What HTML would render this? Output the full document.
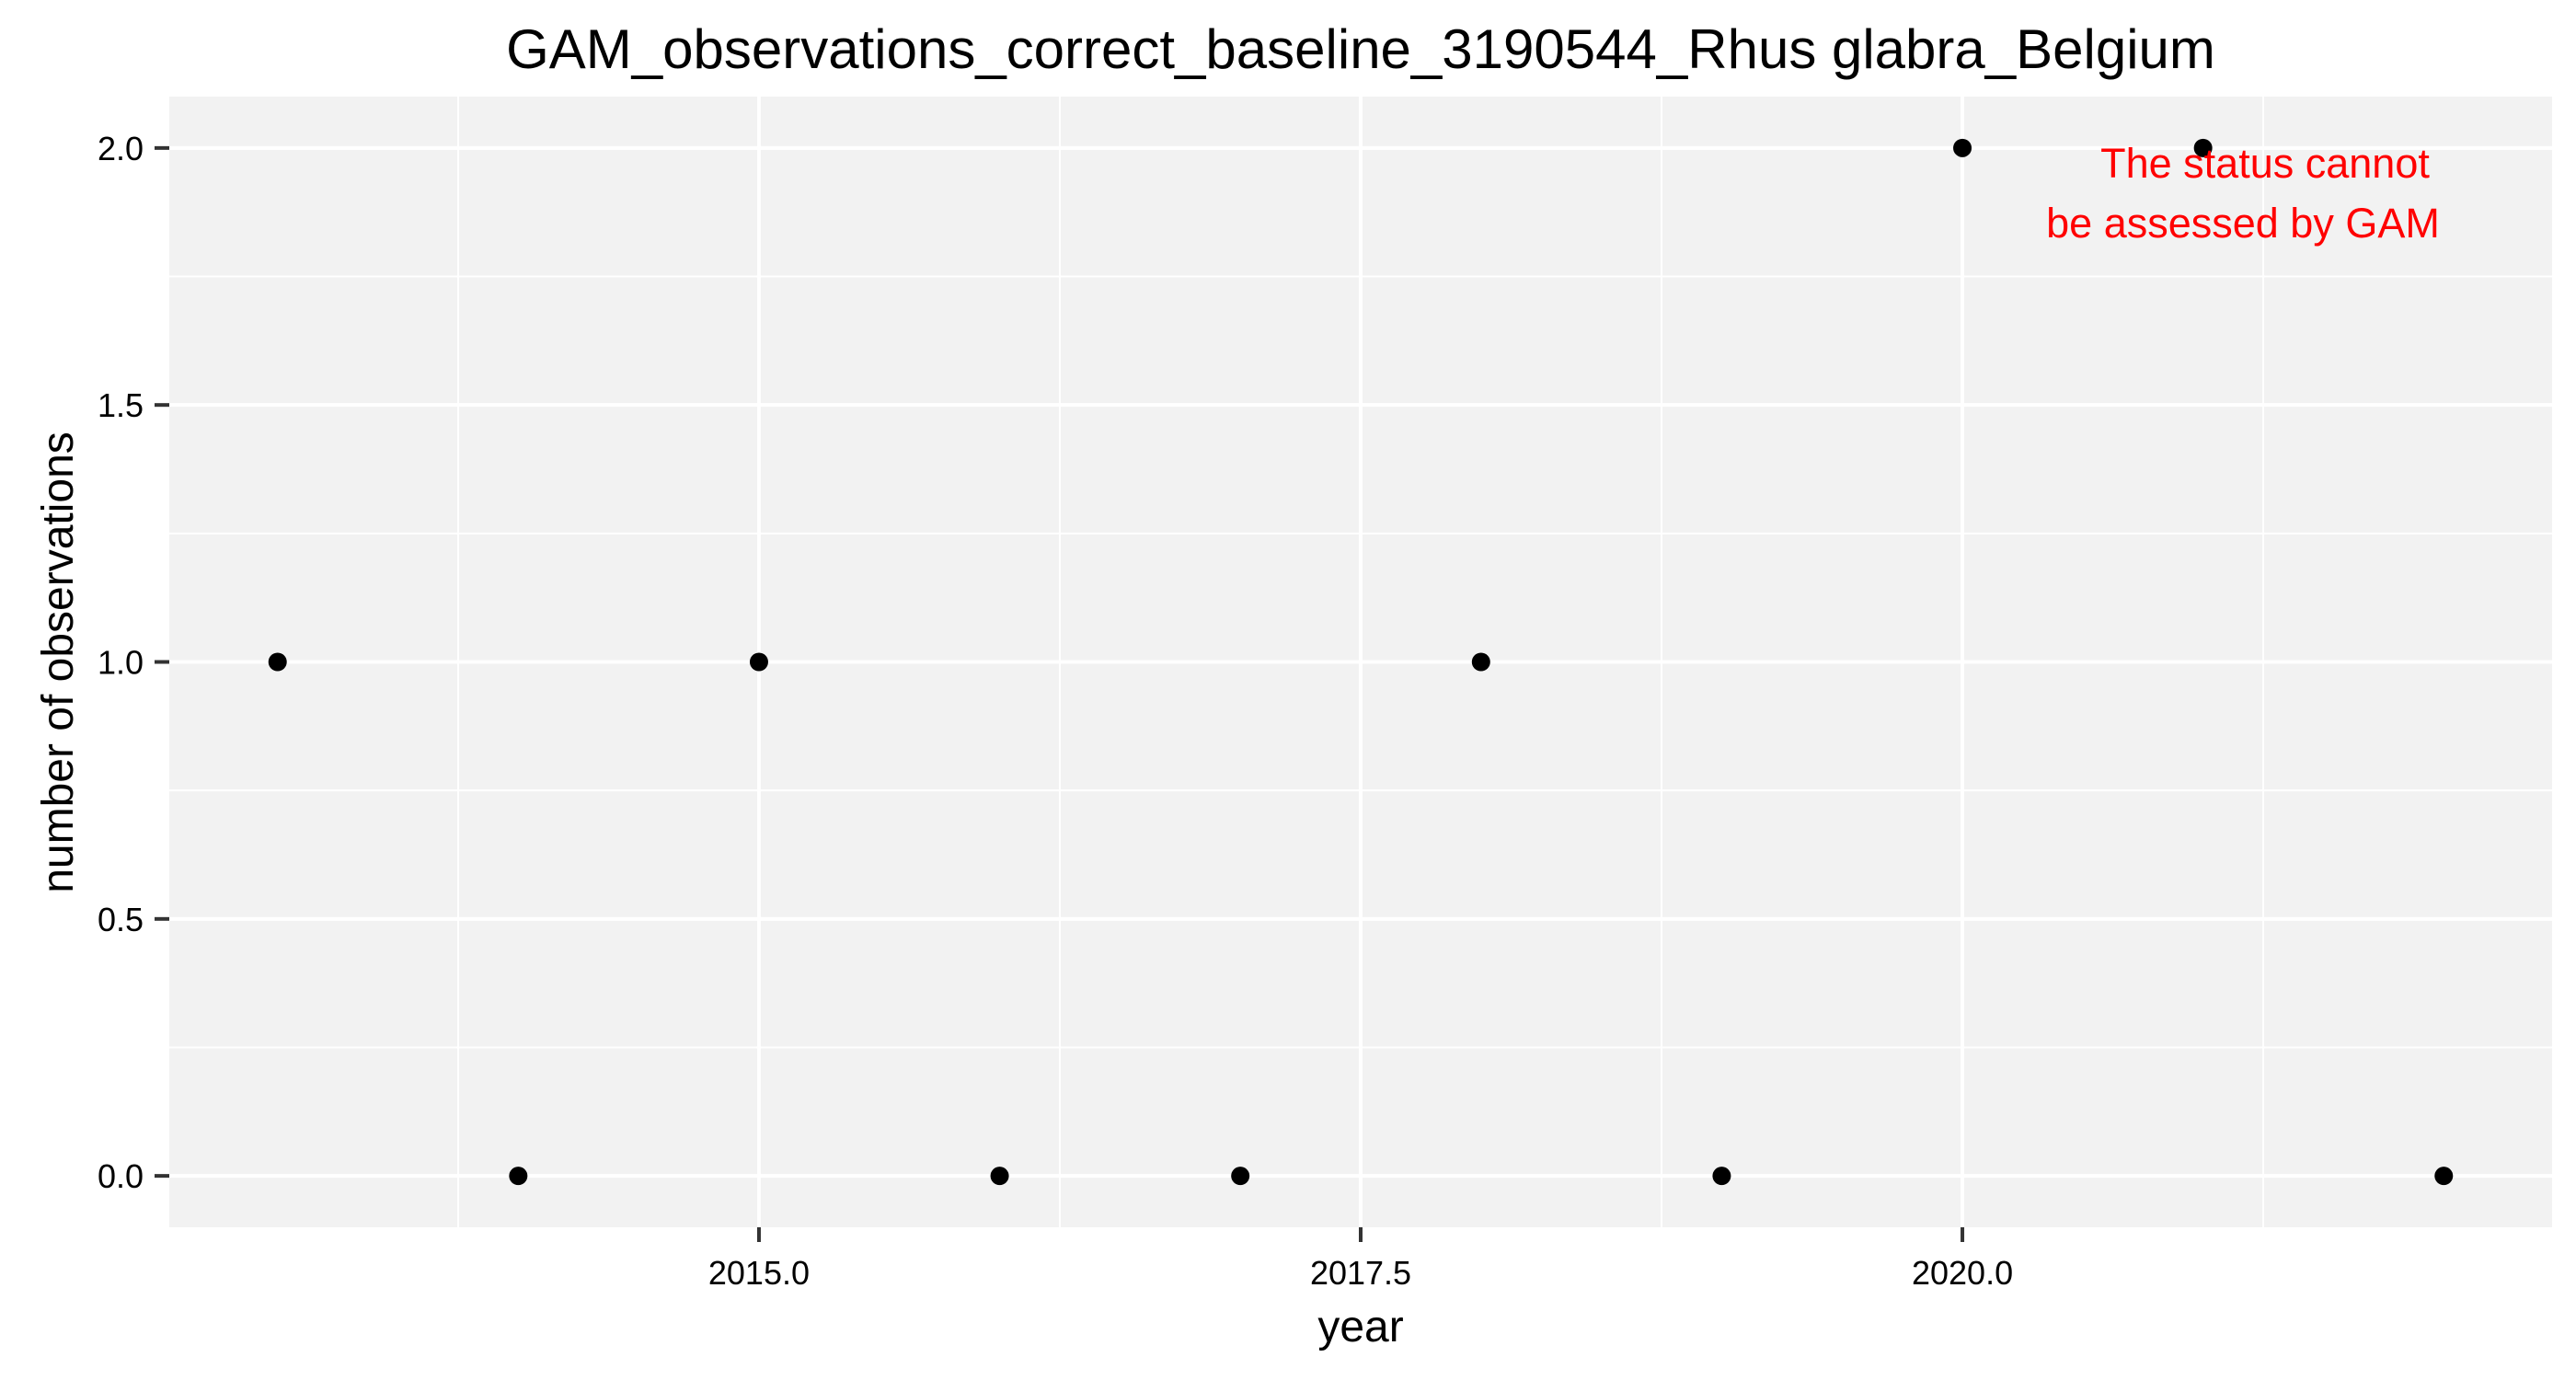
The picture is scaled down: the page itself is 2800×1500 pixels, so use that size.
<!DOCTYPE html>
<html><head><meta charset="utf-8"><style>
html,body{margin:0;padding:0;background:#fff;}
svg{display:block;font-family:"Liberation Sans",Arial,sans-serif;}
</style></head><body>
<svg id="chart" width="2800" height="1500" xmlns="http://www.w3.org/2000/svg">
<text x="1479" y="74" font-size="60" text-anchor="middle">GAM_observations_correct_baseline_3190544_Rhus glabra_Belgium</text>
<rect x="184" y="105" width="2590" height="1229" fill="#f2f2f2"/>
<g id="grid"></g>
<g id="ticks"></g>
<g id="points"></g>
<text x="2462" y="193" font-size="45" fill="#ff0000" text-anchor="middle">The status cannot</text>
<text x="2438" y="258" font-size="45" fill="#ff0000" text-anchor="middle">be assessed by GAM</text>
<text x="1479" y="1458" font-size="48" text-anchor="middle">year</text>
<text transform="translate(79,720) rotate(-90)" font-size="48" text-anchor="middle">number of observations</text>
</svg>
<script>
const years = [2013, 2014, 2015, 2016, 2017, 2018, 2019, 2020, 2021, 2022];
const counts = [1, 0, 1, 0, 0, 1, 0, 2, 2, 0];
const xTicks = [2015, 2017.5, 2020];
const xTickLabels = ["2015.0", "2017.5", "2020.0"];
const xMinor = [2013.75, 2016.25, 2018.75, 2021.25];
const yTicks = [0, 0.5, 1, 1.5, 2];
const yTickLabels = ["0.0", "0.5", "1.0", "1.5", "2.0"];
const yMinor = [0.25, 0.75, 1.25, 1.75];

const L=184,R=2774,T=105,B=1334;
const xmin=Math.min(...years), xmax=Math.max(...years);
const xpad=(xmax-xmin)*0.05;
const ymin=0, ymax=Math.max(...counts), ypad=(ymax-ymin)*0.05;
const xs=v=>L+(v-(xmin-xpad))/((xmax+xpad)-(xmin-xpad))*(R-L);
const ys=v=>B-(v-(ymin-ypad))/((ymax+ypad)-(ymin-ypad))*(B-T);
const NS="http://www.w3.org/2000/svg";
function mk(tag,attrs,parent){const e=document.createElementNS(NS,tag);for(const k in attrs)e.setAttribute(k,attrs[k]);parent.appendChild(e);return e;}
const grid=document.getElementById('grid'),ticks=document.getElementById('ticks'),pts=document.getElementById('points');
xMinor.forEach(v=>{const e=mk('line',{x1:xs(v),x2:xs(v),y1:T,y2:B,stroke:'#fff','stroke-width':2},grid);

});
yMinor.forEach(v=>{const e=mk('line',{x1:L,x2:R,y1:ys(v),y2:ys(v),stroke:'#fff','stroke-width':2},grid);

});
xTicks.forEach((v,i)=>{const e=mk('line',{x1:xs(v),x2:xs(v),y1:T,y2:B,stroke:'#fff','stroke-width':4},grid);


const t=mk('line',{x1:xs(v),x2:xs(v),y1:B,y2:B+16,stroke:'#333','stroke-width':4},ticks);


const l=mk('text',{x:xs(v),y:B+62,'font-size':36,'text-anchor':'middle',fill:'#000'},ticks);l.textContent=xTickLabels[i];

});
yTicks.forEach((v,i)=>{const e=mk('line',{x1:L,x2:R,y1:ys(v),y2:ys(v),stroke:'#fff','stroke-width':4},grid);


const t=mk('line',{x1:L-16,x2:L,y1:ys(v),y2:ys(v),stroke:'#333','stroke-width':4},ticks);


const l=mk('text',{x:L-28,y:ys(v)+13,'font-size':36,'text-anchor':'end',fill:'#000'},ticks);l.textContent=yTickLabels[i];

});
years.forEach((y,i)=>{const c=mk('circle',{cx:xs(y),cy:ys(counts[i]),r:10,fill:'#000'},pts);

});
</script>
</body></html>
